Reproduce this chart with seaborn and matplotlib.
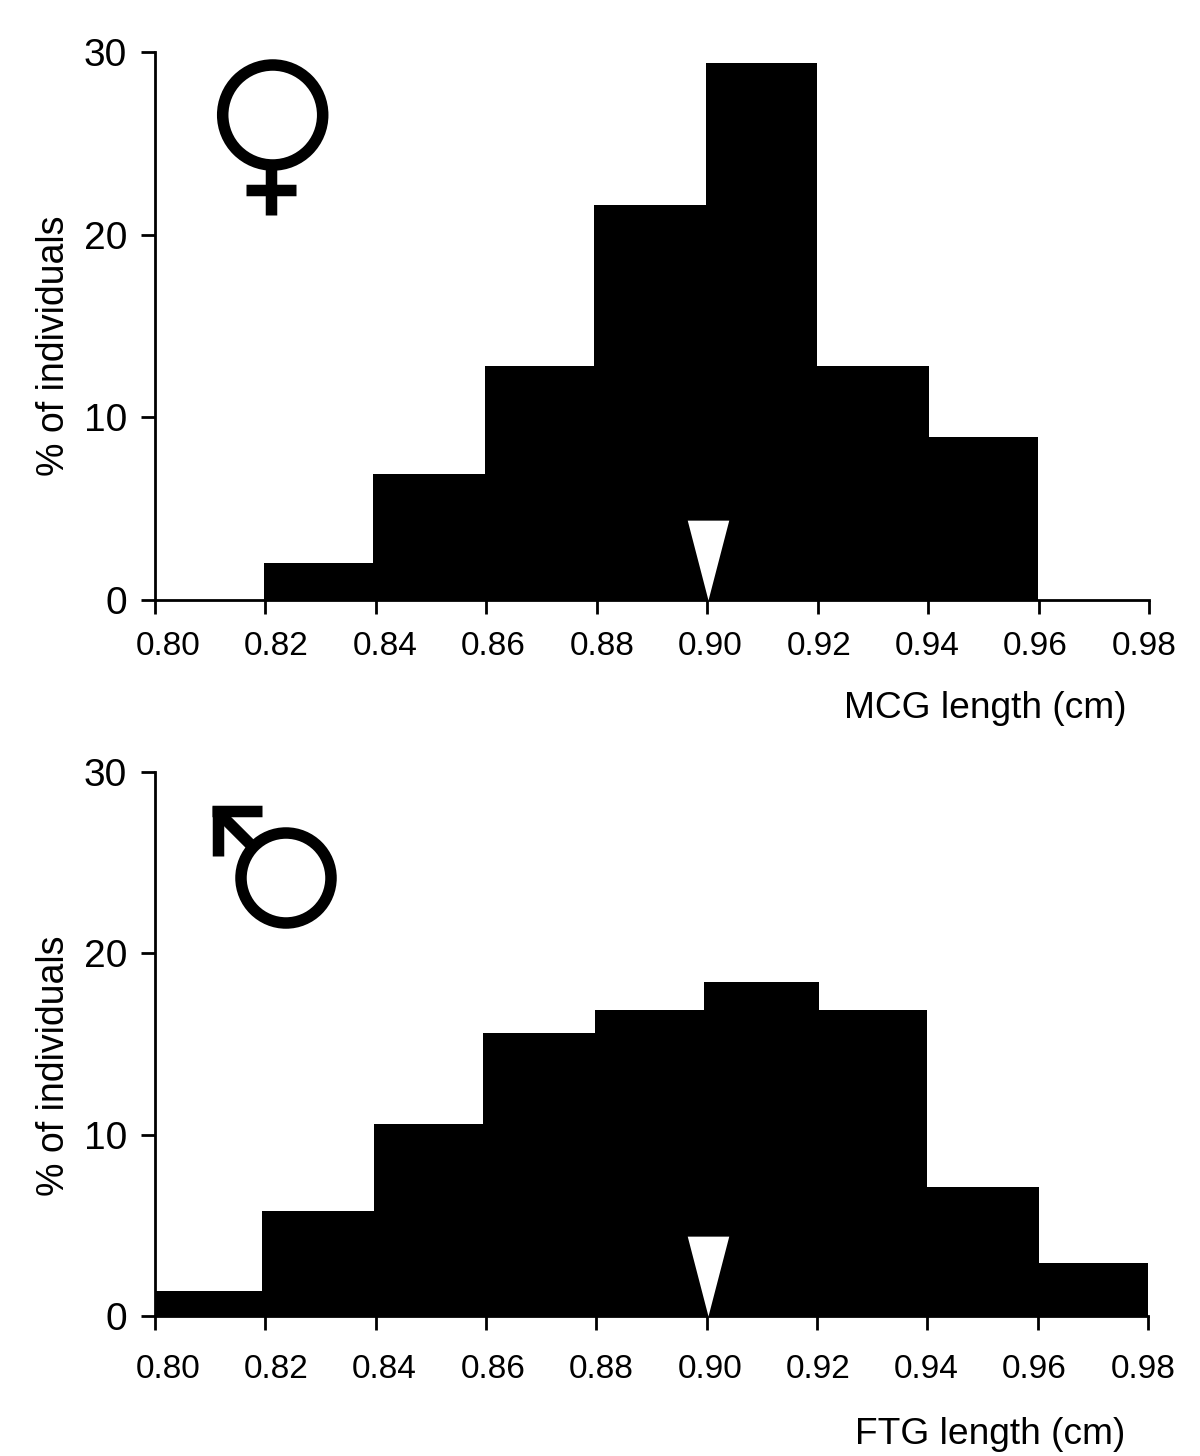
import matplotlib
matplotlib.use("Agg")
import matplotlib.pyplot as plt
from matplotlib.lines import Line2D
from matplotlib.patches import Circle
from matplotlib.transforms import Affine2D, ScaledTranslation
import numpy as np
import seaborn as sns

sns.set_style("white")
plt.rcParams["font.family"] = ["Liberation Sans", "DejaVu Sans"]
plt.rcParams["text.color"] = "black"
plt.rcParams["axes.labelcolor"] = "black"

female_edges = [0.8197, 0.8395, 0.8598, 0.8795, 0.8998, 0.9199, 0.9402, 0.9599]
female_pct = [2.0, 6.9, 12.8, 21.6, 29.4, 12.8, 8.9]
male_edges = [0.80, 0.8194, 0.8397, 0.8594, 0.8798, 0.8995, 0.9203, 0.94, 0.9602, 0.98]
male_pct = [1.4, 5.8, 10.6, 15.6, 16.9, 18.4, 16.9, 7.1, 2.9]
female_mean = 0.9002
male_mean = 0.9002
x_ticks = [0.80, 0.82, 0.84, 0.86, 0.88, 0.90, 0.92, 0.94, 0.96, 0.98]
y_ticks = [0, 10, 20, 30]

W, H = 1200, 1456
fig = plt.figure(figsize=(W / 100, H / 100), dpi=100)

# pixel boxes
ax_top = fig.add_axes([155 / W, 1 - 600 / H, 994 / W, 548 / H])
ax_bot = fig.add_axes([155 / W, 1 - 1316 / H, 993 / W, 544 / H])

#tip of the triangle sits on the mean
arrow = [(-0.26, 1), (0.26, 1), (0, 0)]

#pixels with origin top left, used for the two sex symbols
px = Affine2D().scale(1, -1).translate(0, H)
stroke = 11.5 * 0.72  # px to points


def draw_panel(ax, edges, values, mean, xlabel, label_px, tick_pad, ylabel_y):
    mids = (np.array(edges[:-1]) + np.array(edges[1:])) / 2
    sns.histplot(x=mids, weights=values, bins=edges, color="black",
                 alpha=1, edgecolor="black", linewidth=0, ax=ax)
    ax.plot([mean], [0], marker=arrow, markersize=115, color="white",
            markeredgewidth=0, linestyle="none", clip_on=False, zorder=5)

    ax.set_xlim(0.80, 0.98)
    ax.set_ylim(0, 30)
    ax.set_xticks(x_ticks)
    ax.set_xticklabels([f"{t:.2f}" for t in x_ticks], fontsize=24)
    ax.set_yticks(y_ticks)
    ax.set_yticklabels(y_ticks, fontsize=28)
    ax.tick_params(axis="both", direction="out", length=10, width=2, color="black",
                   bottom=True, left=True, labelcolor="black")
    ax.tick_params(axis="x", pad=tick_pad)
    ax.tick_params(axis="y", pad=10)

    # the x labels are spaced a bit tighter than the ticks in the original
    for i, lab in enumerate(ax.get_xticklabels()):
        dx = (13 - 2 * i) / 100
        lab.set_transform(lab.get_transform() + ScaledTranslation(dx, 0, fig.dpi_scale_trans))

    sns.despine(ax=ax)
    for side in ["left", "bottom"]:
        ax.spines[side].set_linewidth(2)
        ax.spines[side].set_color("black")

    ax.set_ylabel("% of individuals", fontsize=27)
    ax.yaxis.set_label_coords(-0.084, ylabel_y)
    ax.set_xlabel("")
    fig.text(label_px[0] / W, 1 - label_px[1] / H, xlabel, fontsize=26.7, ha="right", va="center")


def symbol_line(xs, ys):
    fig.add_artist(Line2D(xs, ys, color="black", lw=stroke, solid_capstyle="butt",
                          solid_joinstyle="miter", transform=px))


def symbol_ring(x, y, r):
    fig.add_artist(Circle((x, y), r, fill=False, edgecolor="black", lw=stroke, transform=px))


draw_panel(ax_top, female_edges, female_pct, female_mean, "MCG length (cm)", (1126, 708), 12, 0.4635)
draw_panel(ax_bot, male_edges, male_pct, male_mean, "FTG length (cm)", (1125, 1434), 17, 0.46)

#------- female symbol
symbol_ring(272.7, 115, 50)
symbol_line([271, 271], [165, 215])
symbol_line([246, 296], [190, 190])

#------- male symbol
symbol_ring(286, 878, 45)
symbol_line([218, 253], [812, 847])
symbol_line([212.3, 262.3], [811.3, 811.3])
symbol_line([217.6, 217.6], [806, 856])

fig.savefig("out.png", dpi=100)
